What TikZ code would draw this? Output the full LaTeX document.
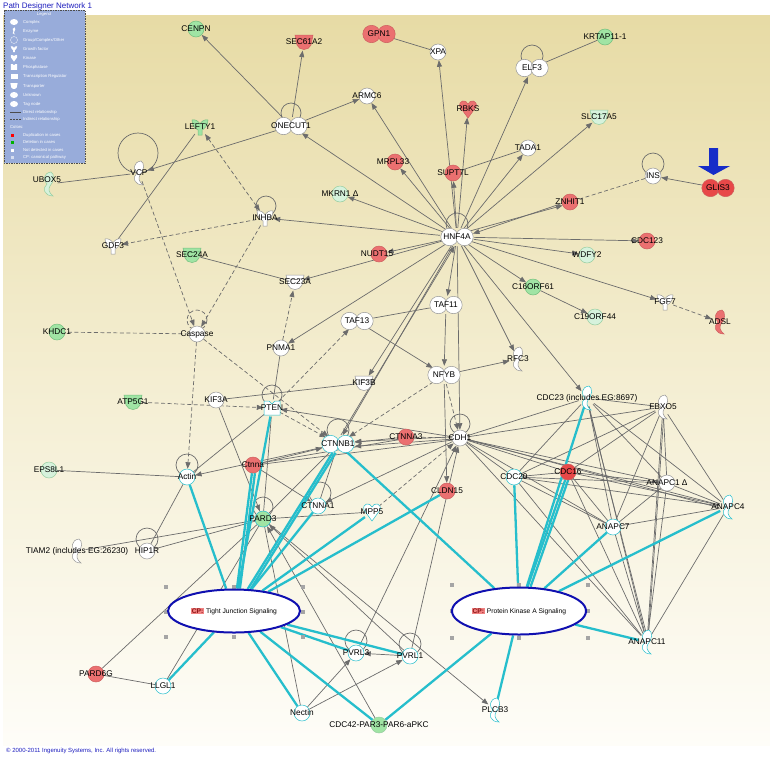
\documentclass[tikz,border=0pt]{standalone}
\usepackage{fontspec}
\setmainfont{Liberation Sans}
\usetikzlibrary{arrows.meta,shapes.geometric}
\pgfdeclarelayer{bglayer}
\pgfdeclarelayer{edgelayer}
\pgfsetlayers{bglayer,edgelayer,main}
\definecolor{bgtop}{RGB}{231,219,165}
\definecolor{bgmid}{RGB}{244,238,210}
\definecolor{bgbot}{RGB}{254,253,248}
\definecolor{nred}{RGB}{235,112,112}
\definecolor{nredb}{RGB}{232,72,72}
\definecolor{nrd}{RGB}{205,95,95}
\definecolor{ngreen}{RGB}{160,228,164}
\definecolor{ngd}{RGB}{115,190,125}
\definecolor{npale}{RGB}{214,242,220}
\definecolor{npd}{RGB}{150,205,160}
\definecolor{cpc}{RGB}{38,190,204}
\definecolor{egray}{RGB}{108,108,108}
\definecolor{ndraw}{RGB}{150,150,150}
\definecolor{ellblue}{RGB}{16,16,176}
\definecolor{legbg}{RGB}{152,172,218}
\definecolor{tblue}{RGB}{30,30,190}
\definecolor{arrblue}{RGB}{22,44,200}
\definecolor{hand}{RGB}{165,165,165}
\definecolor{cpred}{RGB}{240,130,130}
\definecolor{cptext}{RGB}{140,20,20}

\newcommand{\enzp}{(2,-12) .. controls (-6,-11) and (-6,-3) .. (-2,0) .. controls (-7,4) and (-5,12) .. (4,12) .. controls (0,9) and (-1,5) .. (1,2) .. controls (5,-2) and (6,-10) .. (2,-12) -- cycle}
\newcommand{\gfp}{(-8,-7) .. controls (-4,-8) and (-1,-5) .. (0,-3) .. controls (1,-5) and (4,-8) .. (8,-7) .. controls (8,-1) and (4,2) .. (2,3) -- (2,8) -- (-2,8) -- (-2,3) .. controls (-4,2) and (-8,-1) .. (-8,-7) -- cycle}
\newcommand{\trp}{(-9,-7) -- (9,-7) -- (7,3) .. controls (5,9) and (-5,9) .. (-7,3) -- cycle}
\newcommand{\kinp}{(0,9) -- (-8,-2) .. controls (-10,-9) and (-2,-10) .. (0,-5) .. controls (2,-10) and (10,-9) .. (8,-2) -- cycle}
\newcommand{\php}{(-8,-7) -- (-3,-7) -- (0,-4) -- (3,-7) -- (8,-7) -- (8,7) -- (-8,7) -- cycle}

\newcommand{\enz}[4]{\filldraw[fill=#3,draw=#4,line width=0.5pt,shift={(#1,#2)}] \enzp;}
\newcommand{\gfac}[4]{\filldraw[fill=#3,draw=#4,line width=0.5pt,shift={(#1,#2)}] \gfp;}
\newcommand{\trans}[4]{\filldraw[fill=#3,draw=#4,line width=0.5pt,shift={(#1,#2)}] \trp;
  \draw[draw=#4,line width=0.5pt,shift={(#1,#2)}] (-8.5,-4) .. controls (-3,-2) and (3,-2) .. (8.5,-4);}
\newcommand{\kin}[4]{\filldraw[fill=#3,draw=#4,line width=0.5pt,shift={(#1,#2)}] \kinp;}
\newcommand{\phos}[4]{\filldraw[fill=#3,draw=#4,line width=0.5pt,shift={(#1,#2)}] \php;}
\newcommand{\cplx}[4]{\filldraw[fill=#3,draw=#4,line width=0.5pt] (#1-7.5,#2) circle[radius=8.7];
  \filldraw[fill=#3,draw=#4,line width=0.5pt] (#1+7.5,#2) circle[radius=8.7];}
\newcommand{\gene}[5]{\node[#1] (#2) at (#3,#4) {};\node[lab] (#2-t) at (#3,#4) {#5};}
\newcommand{\genel}[7]{\node[#1] (#2) at (#3,#4) {};\node[lab] (#2-t) at (#5,#6) {#7};}
\newcommand{\hsq}[2]{\fill[hand] (#1-1.6,#2-1.6) rectangle (#1+1.6,#2+1.6);}
\newcommand{\cpb}{{\setlength{\fboxsep}{0.8pt}\colorbox{cpred}{\textcolor{cptext}{\bfseries CP:}}}}

\tikzset{
 lab/.style={font=\fontsize{8.3}{9}\selectfont, inner sep=0pt, text=black},
 circ/.style={circle, minimum size=16pt, inner sep=0pt, draw=ndraw, line width=0.5pt, fill=white},
 inv/.style={circle, minimum size=17pt, inner sep=0pt},
 invc/.style={ellipse, minimum width=34pt, minimum height=18pt, inner sep=0pt},
 edge/.style={draw=egray, line width=0.7pt},
 ln/.style={edge},
 arr/.style={edge, -{Triangle[length=6.5pt,width=5pt]}},
 dln/.style={edge, dash pattern=on 4pt off 2.5pt},
 darr/.style={dln, -{Triangle[length=6.5pt,width=5pt]}},
 darrb/.style={dln, {Triangle[length=6.5pt,width=5pt]}-{Triangle[length=6.5pt,width=5pt]}},
 cp/.style={draw=cpc, line width=2.3pt},
 cpell/.style={ellipse, draw=ellblue, line width=2pt, fill=white, inner sep=0pt, font=\fontsize{6.7}{8}\selectfont},
 leg/.style={font=\fontsize{4.2}{5}\selectfont, text=white, inner sep=0pt, anchor=west},
}

\begin{document}
\begin{tikzpicture}[x=1pt,y=-1pt]
\useasboundingbox (0,0) rectangle (770,758);
\begin{pgfonlayer}{bglayer}
\fill[white] (0,0) rectangle (770,758);
\shade[top color=bgtop, bottom color=bgbot, middle color=bgmid] (3,15) rectangle (770,745);
\end{pgfonlayer}

% ---------------- nodes ----------------
\gene{circ,fill=ngreen,draw=ngd}{cenpn}{196}{29}{CENPN}
\trans{304}{42}{nred}{nrd}
\gene{inv}{sec61a2}{304}{42}{SEC61A2}
\cplx{379}{34}{nred}{nrd}
\gene{invc}{gpn1}{379}{34}{GPN1}
\gene{circ}{xpa}{438}{52}{XPA}
\cplx{532}{68}{white}{ndraw}
\gene{invc}{elf3}{532}{68}{ELF3}
\gene{circ,fill=ngreen,draw=ngd}{krtap}{605}{37}{KRTAP11-1}
\gene{circ}{armc6}{367}{96}{ARMC6}
\cplx{291}{126}{white}{ndraw}
\gene{invc}{onecut1}{291}{126}{ONECUT1}
\gfac{200}{127}{ngreen}{ngd}
\gene{inv}{lefty1}{200}{127}{LEFTY1}
\enz{139}{173}{white}{ndraw}
\gene{inv}{vcp}{139}{173}{VCP}
\enz{49}{184}{npale}{npd}
\genel{inv}{ubox5}{49}{184}{47}{180}{UBOX5}
\kin{468}{109}{nred}{nrd}
\gene{inv}{rbks}{468}{109}{RBKS}
\trans{599}{117}{npale}{npd}
\gene{inv}{slc17a5}{599}{117}{SLC17A5}
\gene{circ}{tada1}{528}{148}{TADA1}
\genel{circ,fill=nred,draw=nrd}{mrpl33}{395}{162}{393}{162}{MRPL33}
\gene{circ,fill=nred,draw=nrd}{supt7l}{453}{173}{SUPT7L}
\gene{circ}{ins}{653}{176}{INS}
\cplx{718}{188}{nredb}{nrd}
\gene{invc}{glis3}{718}{188}{GLIS3}
\gene{circ,fill=nred,draw=nrd}{znhit1}{570}{202}{ZNHIT1}
\gene{circ,fill=npale,draw=npd}{mkrn1}{340}{194}{MKRN1 Δ}
\gfac{265}{218}{white}{ndraw}
\gene{inv}{inhba}{265}{218}{INHBA}
\gfac{113}{246}{white}{ndraw}
\gene{inv}{gdf3}{113}{246}{GDF3}
\cplx{457}{237}{white}{ndraw}
\gene{invc}{hnf4a}{457}{237}{HNF4A}
\gene{circ,fill=nred,draw=nrd}{cdc123}{647}{241}{CDC123}
\gene{circ,fill=npale,draw=npd}{wdfy2}{587}{255}{WDFY2}
\genel{circ,fill=nred,draw=nrd}{nudt15}{379}{254}{377}{254}{NUDT15}
\trans{192}{255}{ngreen}{ngd}
\gene{inv}{sec24a}{192}{255}{SEC24A}
\trans{295}{282}{white}{ndraw}
\gene{inv}{sec23a}{295}{282}{SEC23A}
\gene{circ,fill=ngreen,draw=ngd}{c16}{533}{287}{C16ORF61}
\cplx{446}{305}{white}{ndraw}
\gene{invc}{taf11}{446}{305}{TAF11}
\gene{circ,fill=npale,draw=npd}{c19}{595}{317}{C19ORF44}
\gfac{665}{302}{white}{ndraw}
\gene{inv}{fgf7}{665}{302}{FGF7}
\enz{720}{322}{nred}{nrd}
\gene{inv}{adsl}{720}{322}{ADSL}
\cplx{357}{321}{white}{ndraw}
\gene{invc}{taf13}{357}{321}{TAF13}
\gene{circ,fill=ngreen,draw=ngd}{khdc1}{57}{332}{KHDC1}
\gene{circ}{casp}{197}{334}{Caspase}
\gene{circ}{pnma1}{281}{348}{PNMA1}
\enz{518}{359}{white}{ndraw}
\gene{inv}{rfc3}{518}{359}{RFC3}
\cplx{444}{375}{white}{ndraw}
\gene{invc}{nfyb}{444}{375}{NFYB}
\trans{364}{383}{white}{ndraw}
\gene{inv}{kif3b}{364}{383}{KIF3B}
\gene{circ}{kif3a}{216}{400}{KIF3A}
\trans{133}{402}{ngreen}{ngd}
\gene{inv}{atp5g1}{133}{402}{ATP5G1}
\phos{272}{408}{white}{cpc}
\gene{inv}{pten}{272}{408}{PTEN}
\enz{587}{398}{white}{cpc}
\gene{inv}{cdc23}{587}{398}{CDC23 (includes EG:8697)}
\enz{663}{407}{white}{ndraw}
\gene{inv}{fbxo5}{663}{407}{FBXO5}
\cplx{338}{444}{white}{cpc}
\gene{invc}{ctnnb1}{338}{444}{CTNNB1}
\gene{circ,fill=nred,draw=nrd}{ctnna3}{406}{437}{CTNNA3}
\gene{circ}{cdh1}{460}{438}{CDH1}
\gene{circ,draw=cpc}{actin}{187}{477}{Actin}
\gene{circ,fill=nred,draw=nrd}{ctnna}{253}{465}{Ctnna}
\gene{circ,fill=npale,draw=npd}{eps8l1}{49}{470}{EPS8L1}
\gene{circ,fill=nredb,draw=nrd}{cdc16}{568}{472}{CDC16}
\gene{circ,draw=cpc}{cdc20}{514}{477}{CDC20}
\gene{circ}{anapc1}{667}{483}{ANAPC1 Δ}
\gene{circ,fill=nred,draw=nrd}{cldn15}{447}{491}{CLDN15}
\gene{circ,draw=cpc}{ctnna1}{318}{506}{CTNNA1}
\kin{372}{512}{white}{cpc}
\gene{inv}{mpp5}{372}{512}{MPP5}
\enz{728}{507}{white}{cpc}
\gene{inv}{anapc4}{728}{507}{ANAPC4}
\gene{circ,draw=cpc}{anapc7}{613}{527}{ANAPC7}
\gene{circ,fill=ngreen,draw=cpc}{pard3}{263}{519}{PARD3}
\enz{77}{551}{white}{ndraw}
\gene{inv}{tiam2}{77}{551}{TIAM2 (includes EG:26230)}
\gene{circ}{hip1r}{147}{551}{HIP1R}
\enz{647}{642}{white}{cpc}
\gene{inv}{anapc11}{647}{642}{ANAPC11}
\gene{circ,draw=cpc}{pvrl3}{356}{653}{PVRL3}
\gene{circ,draw=cpc}{pvrl1}{410}{656}{PVRL1}
\gene{circ,fill=nred,draw=nrd}{pard6g}{96}{674}{PARD6G}
\gene{circ,draw=cpc}{llgl1}{163}{686}{LLGL1}
\gene{circ,draw=cpc}{nectin}{302}{713}{Nectin}
\gene{circ,fill=ngreen,draw=npd}{cdc42}{379}{725}{CDC42-PAR3-PAR6-aPKC}
\enz{495}{710}{white}{cpc}
\gene{inv}{plcb3}{495}{710}{PLCB3}

% handles
\foreach \hx/\hy in {166/587,166/612,166/637,234/587,234/637,303/587,303/612,303/637,
  452/585,452/611,452/638,519/585,519/638,588/585,588/611,588/638}{\hsq{\hx}{\hy}}

\node[cpell, minimum width=132pt, minimum height=43pt] (tj) at (234,611) {\cpb\ Tight Junction Signaling};
\node[cpell, minimum width=134pt, minimum height=47pt] (pka) at (519,611) {\cpb\ Protein Kinase A Signaling};

% blue arrow
\fill[arrblue] (709,148) -- (718,148) -- (718,166) -- (730,166) -- (713.5,175) -- (698,166) -- (709,166) -- cycle;

% ---------------- edges ----------------
\begin{pgfonlayer}{edgelayer}
% self loops
\draw[edge] (532,56) circle[radius=11];
\draw[edge] (291,113) circle[radius=10];
\draw[edge] (138,153) circle[radius=20];
\draw[edge] (653,164) circle[radius=11];
\draw[edge] (266,206) circle[radius=10];
\draw[edge] (457,224) circle[radius=11];
\draw[dln] (197,320) circle[radius=10];
\draw[edge] (272,395) circle[radius=10];
\draw[edge] (338,430) circle[radius=11];
\draw[edge] (460,424) circle[radius=10];
\draw[edge] (187,465) circle[radius=11];
\draw[edge] (320,493) circle[radius=11];
\draw[edge] (263,507) circle[radius=10];
\draw[edge] (147,539) circle[radius=11];
\draw[edge] (356,641) circle[radius=11];
\draw[edge] (410,644) circle[radius=11];

% from HNF4A
\foreach \t in {onecut1,armc6,xpa,rbks,elf3,slc17a5,tada1,mrpl33,supt7l,cdc123,wdfy2,mkrn1,inhba,nudt15,sec23a,c16,fgf7,taf11,pnma1,rfc3,cdc23,cdh1,kif3b}
  \draw[arr] (hnf4a) -- (\t);
\draw[arr] (hnf4a.25) -- (znhit1.205);
\draw[arr] (znhit1.190) -- (hnf4a.12);
\draw[arr] (hnf4a.245) -- (ctnnb1.62);
\draw[arr] (ctnnb1.72) -- (hnf4a.255);

\draw[ln] (supt7l) -- (tada1);
\draw[ln] (gpn1) -- (xpa);
\draw[ln] (elf3) -- (krtap);
\draw[arr] (glis3) -- (ins);
\draw[dln] (ins) -- (znhit1);
\draw[arr] (onecut1) -- (cenpn);
\draw[arr] (onecut1) -- (sec61a2);
\draw[arr] (onecut1) -- (armc6);
\draw[arr] (onecut1) -- (vcp);
\draw[ln] (vcp) -- (ubox5);
\draw[ln] (lefty1) -- (gdf3);
\draw[darr] (inhba) -- (gdf3);
\draw[darrb] (inhba) -- (lefty1);
\draw[darr] (inhba) -- (casp);
\draw[darr] (vcp) -- (casp);
\draw[dln] (casp) -- (khdc1);
\draw[darr] (casp) -- (actin);
\draw[darr] (casp) -- (ctnnb1);
\draw[darr] (pten) -- (ctnnb1);
\draw[darr] (nfyb) -- (ctnnb1);
\draw[darr] (pten) -- (taf13);
\draw[darr] (pnma1) -- (sec23a);
\draw[darr] (atp5g1) -- (pten);
\draw[ln] (sec24a) -- (sec23a);
\draw[arr] (c16) -- (c19);
\draw[darr] (fgf7) -- (adsl);
\draw[ln] (taf11) -- (taf13);
\draw[arr] (taf11) -- (nfyb);
\draw[arr] (taf13) -- (nfyb);
\draw[arr] (nfyb) -- (rfc3);
\draw[darr] (nfyb) -- (cdh1);
\draw[arr] (nfyb) -- (cldn15);
\draw[ln] (kif3a) -- (kif3b);
\draw[arr] (kif3a) -- (pard3);
\draw[ln] (pnma1) -- (pten);
\draw[ln] (pten) -- (pard3);
\draw[ln] (pten) -- (actin);
\draw[arr] (cdh1) -- (pten);
\draw[arr] (cdh1.172) -- (ctnnb1.8);
\draw[arr] (cdh1.188) -- (ctnnb1.352);
\draw[arr] (ctnna3) -- (ctnnb1);
\draw[dln] (cdh1) -- (ctnna3);
\draw[arr] (ctnna) -- (ctnnb1);
\draw[ln] (ctnna.15) -- (ctnna3.200);
\draw[ln] (ctnna.5) -- (cdh1.195);
\draw[arr] (ctnnb1) -- (actin);
\draw[arr] (ctnna) -- (ctnna1);
\draw[arr] (cdh1) -- (ctnna1);
\draw[ln] (ctnnb1) -- (ctnna1);
\draw[ln] (ctnnb1) -- (pard3);
\draw[darr] (mpp5) -- (cdh1);
\draw[ln] (mpp5) -- (pard3);
\draw[arr] (pvrl3) -- (cdh1);
\draw[arr] (pvrl1) -- (cdh1);
\draw[arr] (pvrl1) -- (pvrl3);
\draw[arr] (nectin) -- (pvrl3);
\draw[arr] (nectin) -- (pvrl1);
\draw[ln] (nectin) -- (pard3);
\draw[arr] (cdc42) -- (pard3);
\draw[arr] (pvrl1) -- (pard3);
\draw[arr] (pard3) -- (plcb3);
\draw[ln] (pard3) -- (tiam2);
\draw[ln] (pard3) -- (hip1r);
\draw[ln] (actin) -- (hip1r);
\draw[ln] (actin) -- (eps8l1);
\draw[ln] (pard3) -- (pard6g);
\draw[ln] (pard6g) -- (llgl1);
\draw[ln] (llgl1) -- (pard3);

% APC/C cluster
\foreach \a/\b in {cdh1/cdc23,cdh1/fbxo5,cdh1/cdc20,cdh1/cdc16,cdh1/anapc1,cdh1/anapc4,cdh1/anapc7,cdh1/anapc11,
  cdc23/fbxo5,cdc23/cdc20,cdc23/anapc1,cdc23/anapc4,cdc23/anapc7,cdc23/anapc11,
  fbxo5/cdc20,fbxo5/cdc16,fbxo5/anapc1,fbxo5/anapc4,fbxo5/anapc7,fbxo5/anapc11,
  cdc20/cdc16,cdc20/anapc1,cdc20/anapc4,cdc20/anapc7,cdc20/anapc11,
  cdc16/anapc1,cdc16/anapc4,cdc16/anapc7,cdc16/anapc11,
  anapc1/anapc4,anapc1/anapc7,anapc1/anapc11,
  anapc4/anapc7,anapc4/anapc11,anapc7/anapc11}
  \draw[ln] (\a) -- (\b);
\draw[ln] (cdh1.350) -- (anapc4.185);
\draw[ln] (cdc23.280) -- (anapc11.95);
\draw[ln] (fbxo5.275) -- (anapc11.80);

% canonical pathway links
\foreach \t in {actin,ctnna,pten,ctnnb1,ctnna1,mpp5,cldn15,llgl1,nectin,cdc42,pvrl3,pvrl1}
  \draw[cp] (tj) -- (\t);
\draw[cp,transform canvas={xshift=3pt}] (tj) -- (ctnna);
\draw[cp,transform canvas={xshift=3pt}] (tj) -- (ctnnb1);
\foreach \t in {ctnnb1,cdc23,cdc16,cdc20,anapc7,anapc4,anapc11,plcb3,cdc42}
  \draw[cp] (pka) -- (\t);
\draw[cp,transform canvas={xshift=3pt}] (pka) -- (cdc16);
\end{pgfonlayer}

% ---------------- legend ----------------
\filldraw[fill=legbg, draw=gray!60!black, dash pattern=on 1.5pt off 1pt, line width=0.4pt] (4,10) rectangle (85,163);
\node[leg, anchor=center] (legt) at (44,14) {Legend};
\fill[white] (14,22) ellipse [x radius=4, y radius=3];
\node[leg] (l1) at (23,22) {Complex};
\fill[white,shift={(14,31)},scale=0.3] \enzp;
\node[leg] (l2) at (23,31) {Enzyme};
\draw[white!80!legbg, line width=0.4pt] (14,40) circle[radius=3.5];
\node[leg] (l3) at (23,40) {Group/Complex/Other};
\fill[white,shift={(14,49)},scale=0.4] \gfp;
\node[leg] (l4) at (23,49) {Growth factor};
\fill[white,shift={(14,58)},scale=0.4] \kinp;
\node[leg] (l5) at (23,58) {Kinase};
\fill[white,shift={(14,67)},scale=0.4] \php;
\node[leg] (l6) at (23,67) {Phosphatase};
\fill[white] (10.5,73.5) rectangle (17.5,78.5);
\node[leg] (l7) at (23,76) {Transcription Regulator};
\fill[white,shift={(14,86)},scale=0.4] \trp;
\node[leg] (l8) at (23,86) {Transporter};
\fill[white] (14,95) ellipse [x radius=4, y radius=3];
\node[leg] (l9) at (23,95) {Unknown};
\fill[white] (14,104) ellipse [x radius=4, y radius=3];
\node[leg] (l10) at (23,104) {Tag node};
\draw[black!70, line width=0.5pt] (10,112) -- (21,112);
\node[leg] (l11) at (23,112) {Direct relationship};
\draw[black!70, line width=0.5pt, dash pattern=on 2pt off 1pt] (10,119) -- (21,119);
\node[leg] (l12) at (23,119) {Indirect relationship};
\node[leg] (l13) at (10,127) {Colors:};
\fill[red] (11,133.5) rectangle (14,136.5);
\node[leg] (l14) at (23,135) {Duplication in cases};
\fill[green!70!black] (11,140.5) rectangle (14,143.5);
\node[leg] (l15) at (23,142) {Deletion in cases};
\fill[white] (11,148.5) rectangle (14,151.5);
\node[leg] (l16) at (23,150) {Not detected in cases};
\fill[white!60!legbg] (11,155.5) rectangle (14,158.5);
\node[leg] (l17) at (23,157) {CP: canonical pathway};

% title and copyright
\node[anchor=west, inner sep=0pt, text=tblue, font=\fontsize{8}{9}\selectfont] (title) at (3,6) {Path Designer Network 1};
\node[anchor=west, inner sep=0pt, text=tblue, font=\fontsize{6}{7}\selectfont] (copy) at (6,751) {© 2000-2011 Ingenuity Systems, Inc. All rights reserved.};
\end{tikzpicture}
\end{document}
